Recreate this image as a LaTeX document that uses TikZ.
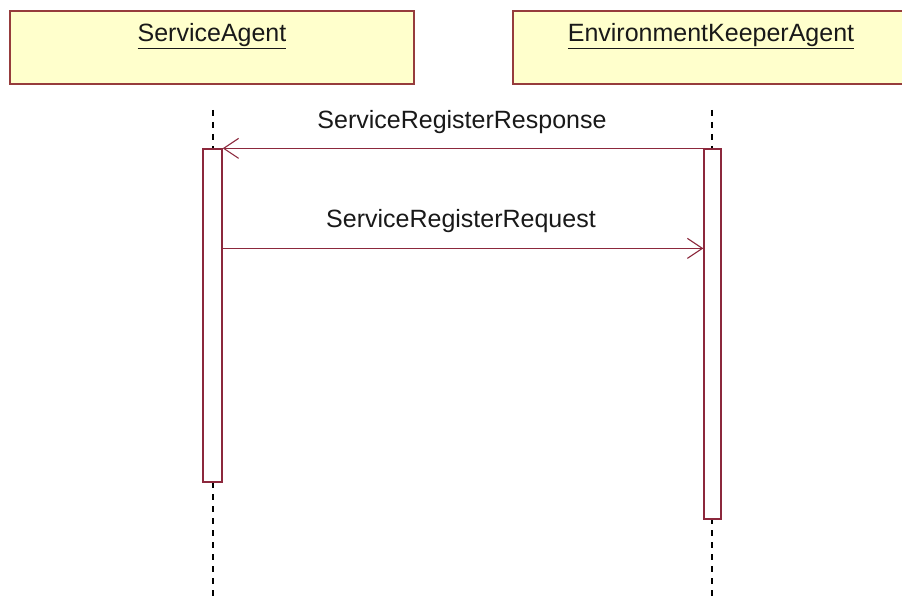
\documentclass[tikz,border=0pt]{standalone}
\usepackage{fontspec}
\setmainfont{Liberation Sans}
\usetikzlibrary{arrows.meta}
\definecolor{umlline}{RGB}{140,40,60}
\definecolor{umlborder}{RGB}{150,60,60}
\definecolor{umlfill}{RGB}{255,255,204}
\definecolor{umltext}{RGB}{25,25,25}
\begin{document}
\begin{tikzpicture}[x=1pt,y=-1pt,
  objbox/.style={draw=umlborder, line width=2pt, fill=umlfill, minimum height=73pt, inner sep=0pt},
  actbox/.style={draw=umlline, line width=1.3pt, fill=white, inner sep=0pt, minimum width=18pt},
  lifeline/.style={black, line width=1.6pt, dash pattern=on 6pt off 6pt},
  msg/.style={umlline, line width=1.3pt, -{Straight Barb[length=15pt,width=20pt,line width=1.1pt]}},
  lbl/.style={font=\fontsize{25}{30}\selectfont, text=umltext, inner sep=0pt, anchor=base}]
\useasboundingbox (0,0) rectangle (902,601);
\fill[white] (0,0) rectangle (902,601);
% object heads
\node[objbox, minimum width=404pt] (sa) at (212,48) {};
\node[objbox, minimum width=420pt] (ek) at (723,48) {};
\node[lbl] (saname) at (212,42) {\underline{ServiceAgent}};
\node[lbl] (ekname) at (711,42) {\underline{EnvironmentKeeperAgent}};
% lifelines
\coordinate (saTop) at (213,110);
\coordinate (saBot) at (213,601);
\coordinate (ekTop) at (712,110);
\coordinate (ekBot) at (712,601);
\draw[lifeline] (saTop) -- (saBot);
\draw[lifeline] (ekTop) -- (ekBot);
% activations
\node[actbox, minimum width=19pt, minimum height=333pt] (saAct) at (212.5,315.5) {};
\node[actbox, minimum width=17pt, minimum height=370pt] (ekAct) at (712.5,334) {};
% messages
\coordinate (r1) at (ekAct.north west);
\coordinate (r2) at (saAct.north east);
\draw[msg] (r1) -- (r2);
\node[lbl] (rlab) at (462,129) {ServiceRegisterResponse};
\coordinate (q1) at ([yshift=-100pt]saAct.north east);
\coordinate (q2) at ([yshift=-100pt]ekAct.north west);
\draw[msg] (q1) -- (q2);
\node[lbl] (qlab) at (461,228) {ServiceRegisterRequest};
\end{tikzpicture}
\end{document}
